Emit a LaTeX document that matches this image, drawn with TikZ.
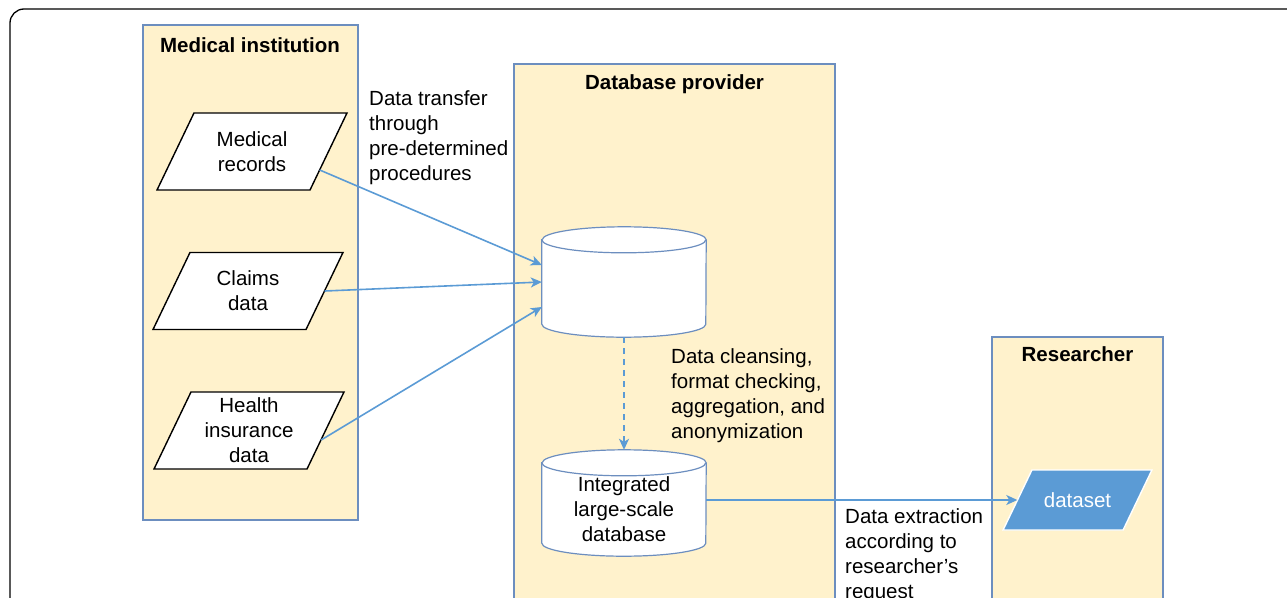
\documentclass[tikz,border=0pt]{standalone}
\usepackage{fontspec}
\setmainfont{Liberation Sans}
\usetikzlibrary{arrows.meta}

\definecolor{lanefill}{HTML}{FFF2CC}
\definecolor{laneedge}{HTML}{6C8EBF}
\definecolor{flowblue}{HTML}{5B9BD5}

\newcommand{\txtsize}{\fontsize{20.5}{25}\selectfont}

% drum outline round an empty box node (#1 = node name)
\newcommand{\dbdrum}[1]{%
  \draw[drum] ([yshift=-13pt]#1.north west) -- ([yshift=13pt]#1.south west)
    arc[start angle=180, end angle=360, x radius=82pt, y radius=13pt]
    -- ([yshift=-13pt]#1.north east)
    arc[start angle=0, end angle=180, x radius=82pt, y radius=13pt] -- cycle;
  \draw[drum] ([yshift=-13pt]#1.north west)
    arc[start angle=180, end angle=360, x radius=82pt, y radius=13pt];
}

% slanted data box: #1 style, #2 centre, #3 half body width, #4 half height
\newcommand{\slantbox}[4]{%
  \pgfmathsetmacro{\sx}{#4*0.48}%
  \draw[#1] ([shift={(-#3+\sx,-#4)}]#2) -- ([shift={(#3+\sx,-#4)}]#2)
    -- ([shift={(#3-\sx,#4)}]#2) -- ([shift={(-#3-\sx,#4)}]#2) -- cycle;
}

\tikzset{
  lane/.style={draw=laneedge, fill=lanefill, line width=1.2pt},
  lanetitle/.style={font=\txtsize\bfseries, anchor=base, inner sep=0},
  source/.style={draw=black, fill=white, line width=1.4pt},
  slabtext/.style={rectangle, align=center, inner sep=0, font=\txtsize},
  drumbox/.style={rectangle, minimum width=164pt, inner sep=0},
  drum/.style={draw=laneedge, fill=white, line width=1.2pt},
  note/.style={anchor=north west, align=left, inner sep=0, font=\txtsize},
  flow/.style={draw=flowblue, line width=1.6pt, -{Stealth[length=11pt,width=10pt,inset=3pt]}},
}

\begin{document}
\begin{tikzpicture}[x=1pt, y=-1pt]
  \clip (0,0) rectangle (1287,597);
  \useasboundingbox (0,0) rectangle (1287,597);

  % outer frame
  \draw[line width=1.3pt, rounded corners=14pt] (10,640) |- (1340,9);

  % lanes
  \draw[lane] (143,25) rectangle (358,520);
  \draw[lane] (514,64) rectangle (835,640);
  \draw[lane] (992,337) rectangle (1163,640);

  \node[lanetitle] (medtitle) at (250,52) {Medical institution};
  \node[lanetitle] (provtitle) at (674.5,89) {Database provider};
  \node[lanetitle] (restitle) at (1077.5,361.5) {Researcher};

  % sources
  \coordinate (mrc) at (252,151.5);
  \coordinate (cdc) at (248,291);
  \coordinate (hic) at (249,430.5);
  \slantbox{source}{mrc}{76.5}{38.5}
  \slantbox{source}{cdc}{76.5}{38.5}
  \slantbox{source}{hic}{76.5}{38.5}
  \node[slabtext, minimum width=153pt, minimum height=77pt] (mr) at (mrc) {Medical\\records};
  \node[slabtext, minimum width=153pt, minimum height=77pt] (cd) at (cdc) {Claims\\data};
  \node[slabtext, minimum width=153pt, minimum height=77pt] (hi) at (hic) {Health\\insurance\\data};

  % databases
  \node[drumbox, minimum height=110pt] (db) at (624,282) {};
  \dbdrum{db}
  \node[drumbox, minimum height=106pt] (big) at (624,503) {};
  \dbdrum{big}
  \node[slabtext] (bigtxt) at (624,509.5) {Integrated\\large-scale\\database};

  % dataset
  \coordinate (dsc) at (1077.5,500);
  \slantbox{draw=white, fill=flowblue, line width=1.4pt}{dsc}{60}{30}
  \node[slabtext, text=white, minimum width=120pt, minimum height=60pt] (ds) at (dsc) {dataset};

  % notes
  \node[note] (transfer) at (369,90) {Data transfer\\through\\pre-determined\\procedures};
  \node[note] (cleanse) at (671,348) {Data cleansing,\\format checking,\\aggregation, and\\anonymization};
  \node[note] (extract) at (845,508) {Data extraction\\according to\\researcher’s\\request};

  % flows
  \draw[flow] ([xshift=-9pt,yshift=-18.5pt]mr.east) -- ([yshift=17pt]db.west);
  \draw[flow] (cd.east) -- (db.west);
  \draw[flow] ([xshift=-4.6pt,yshift=-9.5pt]hi.east) -- ([yshift=-25pt]db.west);
  \draw[flow, dash pattern=on 6pt off 5pt] (db.south) -- (big.north);
  \draw[flow] (ds.west -| big.east) -- (ds.west);
\end{tikzpicture}
\end{document}
